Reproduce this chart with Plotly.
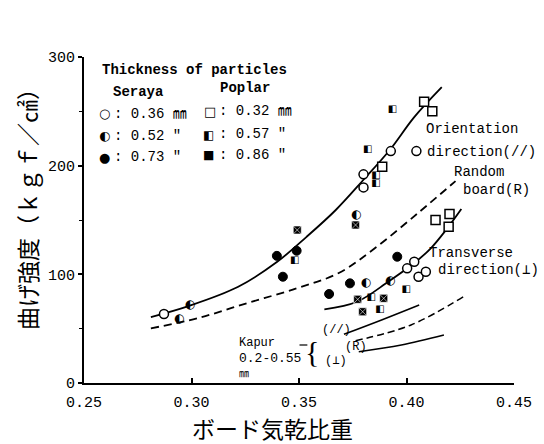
import plotly.graph_objects as go

# ---- measured points: Seraya (circles) ----
seraya_036_x = [0.2872, 0.3800, 0.3800, 0.3927, 0.4046, 0.4003, 0.4036, 0.4056, 0.4090]
seraya_036_y = [63.5, 192.0, 180.0, 213.4, 213.4, 105.5, 111.6, 97.8, 102.4]
seraya_052_x = [0.2944, 0.2994, 0.3767, 0.3813, 0.3926]
seraya_052_y = [58.6, 71.8, 154.5, 92.3, 93.8]
seraya_073_x = [0.3397, 0.3489, 0.3425, 0.3640, 0.3737, 0.3957]
seraya_073_y = [117.0, 121.7, 97.8, 81.9, 91.7, 116.2]

# ---- measured points: Poplar (squares) ----
poplar_032_x = [0.3887, 0.4082, 0.4120, 0.4135, 0.4200, 0.4196]
poplar_032_y = [199.0, 258.8, 250.0, 150.0, 155.5, 143.8]
poplar_057_x = [0.3935, 0.3820, 0.3858, 0.3858, 0.3480, 0.3836, 0.3877, 0.3999]
poplar_057_y = [251.8, 215.0, 191.0, 183.7, 113.0, 78.8, 67.2, 85.6]
poplar_086_x = [0.3492, 0.3763, 0.3773, 0.3894, 0.3796]
poplar_086_y = [140.8, 145.4, 77.0, 77.9, 65.6]

# ---- trend curves ----
orient_x = [0.2811, 0.2986, 0.3215, 0.3397, 0.3534, 0.3671, 0.3799, 0.3922, 0.4036, 0.4164]
orient_y = [60.7, 70.8, 88.3, 111.3, 134.3, 159.2, 186.8, 214.4, 244.7, 272.3]
random_x = [0.2811, 0.3032, 0.3260, 0.3489, 0.3685, 0.3854, 0.4059, 0.4228]
random_y = [50.3, 59.8, 73.6, 87.1, 101.2, 124.2, 157.3, 185.8]
trans_x = [0.3618, 0.3770, 0.3915, 0.4036, 0.4114, 0.4187, 0.4255]
trans_y = [67.8, 74.8, 93.2, 110.4, 124.2, 141.7, 160.1]

# Kapur reference lines (0.2-0.55 mm)
kapur_par_x = [0.3709, 0.3884, 0.4059]
kapur_par_y = [44.8, 58.0, 71.8]
kapur_r_x = [0.3763, 0.4021, 0.4265]
kapur_r_y = [38.9, 53.4, 79.4]
kapur_perp_x = [0.3778, 0.3976, 0.4174]
kapur_perp_y = [28.8, 35.0, 44.2]

x_ticks = [0.25, 0.30, 0.35, 0.40, 0.45]
x_tick_text = ["0.25", "0.30", "0.35", "0.40", "0.45"]
y_ticks = [0, 100, 200, 300]
y_tick_text = ["0", "100", "200", "300"]

MONO = "Liberation Mono, DejaVu Sans Mono, Noto Sans CJK JP, monospace"
SYM = "DejaVu Sans, Noto Sans CJK JP"
CJK = "Noto Sans CJK JP"

W, H = 544, 444
ML, MR, MT, MB = 84, 23, 57, 61
PW, PH = W - ML - MR, H - MT - MB

fig = go.Figure()

line_style = dict(color="black", width=1.8)

fig.add_trace(go.Scatter(x=orient_x, y=orient_y, mode="lines", line_shape="spline",
                         line=line_style, hoverinfo="skip"))
fig.add_trace(go.Scatter(x=random_x, y=random_y, mode="lines", line_shape="spline",
                         line=dict(color="black", width=1.8, dash="8px,5px"), hoverinfo="skip"))
fig.add_trace(go.Scatter(x=trans_x, y=trans_y, mode="lines", line_shape="spline",
                         line=line_style, hoverinfo="skip"))
fig.add_trace(go.Scatter(x=kapur_par_x, y=kapur_par_y, mode="lines", line_shape="spline",
                         line=dict(color="black", width=1.5), hoverinfo="skip"))
fig.add_trace(go.Scatter(x=kapur_r_x, y=kapur_r_y, mode="lines", line_shape="spline",
                         line=dict(color="black", width=1.5, dash="7px,4px"), hoverinfo="skip"))
fig.add_trace(go.Scatter(x=kapur_perp_x, y=kapur_perp_y, mode="lines", line_shape="spline",
                         line=dict(color="black", width=1.5), hoverinfo="skip"))

# markers
fig.add_trace(go.Scatter(x=seraya_036_x, y=seraya_036_y, mode="markers",
                         marker=dict(symbol="circle", size=9, color="white",
                                     line=dict(color="black", width=1.5))))
fig.add_trace(go.Scatter(x=seraya_052_x, y=seraya_052_y, mode="text", text=["◐"] * len(seraya_052_x),
                         textposition="middle center", textfont=dict(family=SYM, size=12, color="black")))
fig.add_trace(go.Scatter(x=seraya_073_x, y=seraya_073_y, mode="markers",
                         marker=dict(symbol="circle", size=9, color="black",
                                     line=dict(color="black", width=1))))
fig.add_trace(go.Scatter(x=poplar_032_x, y=poplar_032_y, mode="markers",
                         marker=dict(symbol="square", size=9, color="white",
                                     line=dict(color="black", width=1.5))))
fig.add_trace(go.Scatter(x=poplar_057_x, y=poplar_057_y, mode="text", text=["◧"] * len(poplar_057_x),
                         textposition="middle center", textfont=dict(family=SYM, size=10, color="black")))
fig.add_trace(go.Scatter(x=poplar_086_x, y=poplar_086_y, mode="markers",
                         marker=dict(symbol="square-x", size=8, color="black",
                                     line=dict(color="white", width=0.6))))


def px(xp):
    return (xp - ML) / PW


def py(yp):
    return (MT + PH - yp) / PH


annotations = []


def note(text, xp, yp, size=14, family=MONO, xanchor="left", bold=False, angle=0):
    annotations.append(dict(
        text=f"<b>{text}</b>" if bold else text,
        x=px(xp), y=py(yp), xref="paper", yref="paper",
        xanchor=xanchor, yanchor="middle", showarrow=False, textangle=angle,
        font=dict(family=family, size=size, color="black")))


# legend block
note("Thickness of particles", 100, 70, size=14, bold=True)
note("Seraya", 111, 92, size=14, bold=True)
note("Poplar", 220, 88, size=14, bold=True)
note("○", 105, 113, size=13, family=SYM, xanchor="center")
note("◐", 105, 135, size=13, family=SYM, xanchor="center")
note("●", 105, 157, size=13, family=SYM, xanchor="center")
note("□", 212, 111, size=13, family=SYM, xanchor="center")
note("◧", 211, 135, size=12, family=SYM, xanchor="center")
note("■", 211, 155, size=12, family=SYM, xanchor="center")
note(": 0.36 ㎜", 112, 114)
note(": 0.52 \"", 112, 136)
note(": 0.73 \"", 112, 157)
note(": 0.32 ㎜", 219, 111)
note(": 0.57 \"", 219, 134)
note(": 0.86 \"", 219, 155)

# curve labels
note("Orientation", 430, 129)
note("direction(//)", 431, 152)
note("Random", 458, 172)
note("board(R)", 467, 190)
note("Transverse", 433, 253)
note("direction(⊥)", 442, 270)

# Kapur labels
note("Kapur", 239, 343, size=12)
note("0.2-0.55", 239, 358, size=13)
note("㎜", 239, 372, size=10, family=CJK)
note("{", 316, 351, size=30, family="Liberation Serif", xanchor="center")
note("(//)", 324, 330, size=12)
note("(⊥)", 327, 361, size=12)
note("(R)", 347, 347, size=12)

# axis titles
note("曲げ強度（ｋｇｆ／㎠）", 26, 203, size=23, family=CJK, xanchor="center", angle=-90)
note("ボード気乾比重", 276, 428, size=23, family=CJK, xanchor="center")

# short lead-in stroke for the Kapur brace
shapes = [dict(type="line", xref="paper", yref="paper",
               x0=px(303), x1=px(311), y0=py(345), y1=py(345),
               line=dict(color="black", width=1.2))]

fig.update_layout(
    width=W, height=H,
    margin=dict(l=ML, r=MR, t=MT, b=MB, pad=0),
    paper_bgcolor="white", plot_bgcolor="white",
    showlegend=False,
    annotations=annotations,
    shapes=shapes,
    xaxis=dict(range=[0.25, 0.45], tickvals=x_ticks, ticktext=x_tick_text,
               showgrid=False, zeroline=False, showline=True, linecolor="black", linewidth=2,
               ticks="inside", ticklen=5, tickwidth=1.5, tickcolor="black",
               ticklabelstandoff=4,
               tickfont=dict(family=MONO, size=15, color="black")),
    yaxis=dict(range=[0, 300], tickvals=y_ticks, ticktext=y_tick_text,
               showgrid=False, zeroline=False, showline=True, linecolor="black", linewidth=2,
               ticks="outside", ticklen=4, tickwidth=1.5, tickcolor="black",
               minor=dict(tickvals=[50, 150, 250], ticks="outside", ticklen=3,
                          tickcolor="black", tickwidth=1),
               tickfont=dict(family=MONO, size=15, color="black")),
)

fig.write_html("out.html")
